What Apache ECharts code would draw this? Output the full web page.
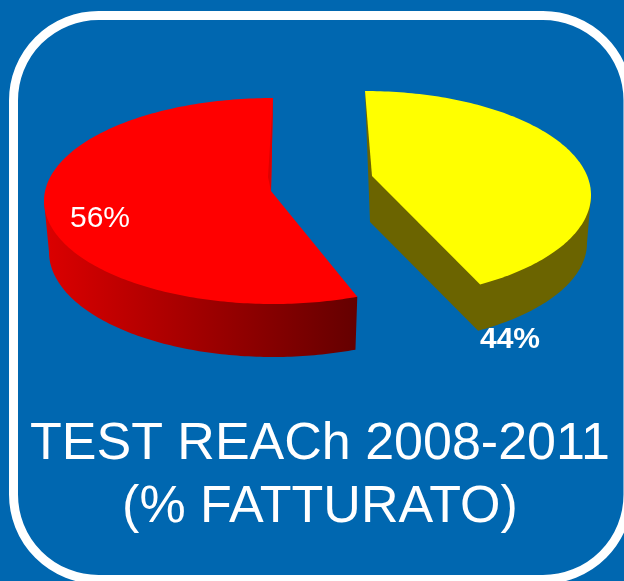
<!DOCTYPE html>
<html>
<head>
<meta charset="utf-8">
<style>
    html, body { margin: 0; padding: 0; background: #0067b0; }
    #chart { width: 624px; height: 581px; }
</style>
<script src="https://cdn.jsdelivr.net/npm/echarts@6/dist/echarts.min.js"></script>
</head>
<body>
<div id="chart"></div>
<script>
const sliceNames = ['A', 'B'];
const sliceValues = [56, 44];
const sliceLabels = ['56%', '44%'];
const titleLines = ['TEST REACh 2008-2011', '(% FATTURATO)'];

// where each slice sits on the page, the pie is exploded so each has its own ellipse
const redLayout = {
    dir: -1, sweepScale: 1,
    top: { cx: 273, cy: 201, rx: 229, ry: 103 },
    bottom: { cx: 273, cy: 252, rx: 224, ry: 105 },
    apex: [271, 191], fold: [268, 177],
    label: [70, 219], labelSize: 30, labelWeight: 'normal',
    face: '#ff0000', inner: '#e00000',
    side: { type: 'linear', x: 0, y: 0, x2: 1, y2: 0, colorStops: [
        { offset: 0, color: '#dc0000' }, { offset: 1, color: '#640000' }
    ] }
};
const yellowLayout = {
    dir: 1, sweepScale: 0.943, // perspective of the picture squeezes this slice
    top: { cx: 365, cy: 195, rx: 226, ry: 104 },
    bottom: { cx: 365, cy: 243, rx: 222, ry: 102 },
    apex: [372, 176], wallApex: [370, 222],
    label: [480, 340], labelSize: 30, labelWeight: 'bold',
    face: '#ffff00', side: '#6b6400'
};
const layouts = [redLayout, yellowLayout];

function rimPoint(ellipse, deg) {
    const a = deg * Math.PI / 180;
    return [ellipse.cx + ellipse.rx * Math.sin(a), ellipse.cy - ellipse.ry * Math.cos(a)];
}

function rimArc(ellipse, from, to) {
    const pts = [];
    const steps = Math.ceil(Math.abs(to - from));
    for (let i = 0; i <= steps; i++) {
        pts.push(rimPoint(ellipse, from + (to - from) * i / steps));
    }
    return pts;
}

function renderSlice(params, api) {
    const l = layouts[api.value(0)];
    const end = l.dir * api.value(1) * 3.6 * l.sweepScale;
    const widest = l.dir * 90;
    const start = rimPoint(l.top, 0);
    const children = [];

    // side wall, the part running through the inside is covered by the top face
    let wall;
    if (l.wallApex) {
        wall = [start, l.wallApex].concat(rimArc(l.bottom, end, widest), [rimPoint(l.top, widest)]);
    } else {
        wall = [rimPoint(l.top, widest)].concat(rimArc(l.bottom, widest, end), [rimPoint(l.top, end)]);
    }
    children.push({ type: 'polygon', shape: { points: wall }, style: { fill: l.side } });

    children.push({
        type: 'polygon',
        shape: { points: rimArc(l.top, 0, end).concat([l.apex]) },
        style: { fill: l.face }
    });

    if (l.fold) {
        children.push({
            type: 'polygon',
            shape: { points: [start, l.fold, l.apex] },
            style: { fill: l.inner }
        });
    }

    children.push({
        type: 'text',
        style: {
            x: l.label[0], y: l.label[1],
            text: sliceLabels[api.value(0)],
            fill: '#ffffff',
            font: l.labelWeight + ' ' + l.labelSize + 'px "Liberation Sans"',
            verticalAlign: 'middle'
        }
    });
    return { type: 'group', children: children };
}

const myChart = echarts.init(document.getElementById('chart'));
myChart.setOption({
    animation: false,
    backgroundColor: '#0067b0',
    title: {
        text: titleLines.join('\n'),
        left: 315,
        top: 408,
        textAlign: 'center',
        textStyle: {
            fontFamily: 'Liberation Sans',
            fontWeight: 'normal',
            fontSize: 52,
            lineHeight: 63,
            color: '#ffffff'
        }
    },
    graphic: [{
        type: 'rect',
        z: 0,
        shape: { x: 13.5, y: 15.5, width: 614.5, height: 564, r: 85 },
        style: { fill: 'none', stroke: '#ffffff', lineWidth: 9 }
    }],
    series: [{
        type: 'custom',
        coordinateSystem: 'none',
        renderItem: renderSlice,
        data: sliceNames.map((name, i) => ({ name: name, value: [i, sliceValues[i]] }))
    }]
});
</script>
</body>
</html>
